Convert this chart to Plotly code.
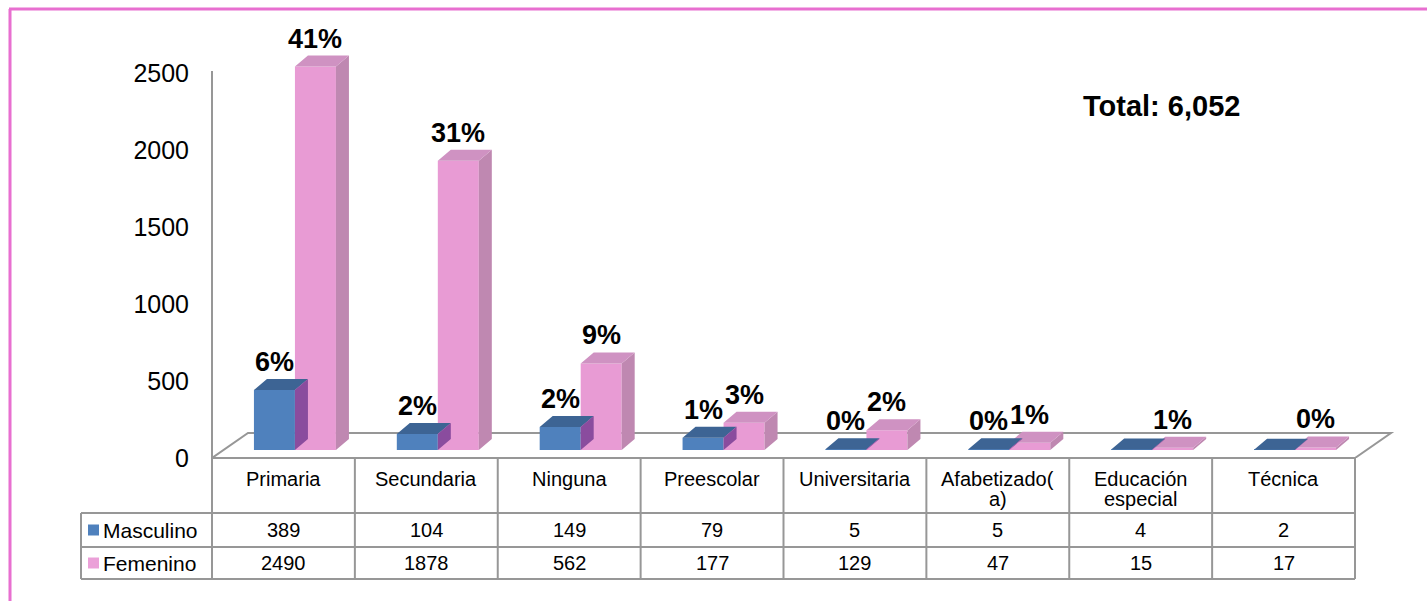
import numpy as np
import plotly.graph_objects as go

# ---------------- data ----------------
categories = ["Primaria", "Secundaria", "Ninguna", "Preescolar", "Universitaria",
              "Afabetizado(a)", "Educación especial", "Técnica"]
header_lines = [["Primaria"], ["Secundaria"], ["Ninguna"], ["Preescolar"], ["Universitaria"],
                ["Afabetizado(", "a)"], ["Educación", "especial"], ["Técnica"]]
series_names = ["Masculino", "Femenino"]
masculino = [389, 104, 149, 79, 5, 5, 4, 2]
femenino = [2490, 1878, 562, 177, 129, 47, 15, 17]
masc_labels = ["6%", "2%", "2%", "1%", "0%", "0%", "", ""]
fem_labels = ["41%", "31%", "9%", "3%", "2%", "1%", "1%", "0%"]
y_ticks = [0, 500, 1000, 1500, 2000, 2500]
total_text = "Total: 6,052"

# ---------------- geometry / style ----------------
W, H = 1427, 601
PL, PR, PT, PB = 212, 1400, 30, 458          # plot area in pixels
COL_PX = 142.875                              # pixel width of one category column
PX_PER_UNIT = 0.154                           # pixels per value unit
FONT = "Arial, Liberation Sans, sans-serif"
GRID = "#979797"

n = len(categories)
x_min = -0.5
x_max = -0.5 + (PR - PL) / COL_PX
y_max = (PB - PT) / PX_PER_UNIT


def dx(px):
    return px / COL_PX


def dy(px):
    return px / PX_PER_UNIT


def paper_x_px(px):
    return (px - PL) / (PR - PL)


def paper_x_data(xd):
    return (xd - x_min) / (x_max - x_min)


def paper_y(py):
    return (PB - py) / (PB - PT)


colors = {
    "Masculino": dict(front="#4F81BD", top="#3D6494", side="#8A4C9E", legend="#4F81BD"),
    "Femenino": dict(front="#E89BD4", top="#CF92C2", side="#BF88B1", legend="#EBA0D8"),
}

base = dy(8)
bar_w = dx(41)
depth_x, depth_y = dx(13), dy(11)
offsets = {"Masculino": dx(-9), "Femenino": dx(32)}
values = {"Masculino": masculino, "Femenino": femenino}
labels = {"Masculino": masc_labels, "Femenino": fem_labels}

idx = np.arange(n)
fig = go.Figure()


def faces(xc, vals):
    top_x, top_y, side_x, side_y = [], [], [], []
    for c, v in zip(xc, vals):
        x0, x1 = c - bar_w / 2, c + bar_w / 2
        t = base + v
        top_x += [x0, x1, x1 + depth_x, x0 + depth_x, x0, None]
        top_y += [t, t, t + depth_y, t + depth_y, t, None]
        side_x += [x1, x1, x1 + depth_x, x1 + depth_x, x1, None]
        side_y += [base, t, t + depth_y, base + depth_y, base, None]
    return top_x, top_y, side_x, side_y


for name in ["Femenino", "Masculino"]:
    xc = idx + offsets[name]
    col = colors[name]
    fig.add_trace(go.Bar(x=xc, y=values[name], base=base, width=bar_w, name=name,
                         marker=dict(color=col["front"], line=dict(width=0)),
                         showlegend=False))
    tx, ty, sx, sy = faces(xc, values[name])
    order = [("side", sx, sy), ("top", tx, ty)] if name == "Femenino" else [("top", tx, ty), ("side", sx, sy)]
    for key, px_, py_ in order:
        fig.add_trace(go.Scatter(x=px_, y=py_, mode="lines", fill="toself",
                                 fillcolor=col[key], line=dict(width=0, color=col[key]),
                                 hoverinfo="skip", showlegend=False))

shapes = []
annotations = []

# 3D floor outline
fx0, fx1 = -0.5, n - 0.5
floor_dx, floor_dy = dx(36), dy(25)
shapes.append(dict(type="path", xref="x", yref="y", layer="below",
                   path=f"M {fx0},0 L {fx0 + floor_dx},{floor_dy} L {fx1 + floor_dx},{floor_dy} "
                        f"L {fx1},0 Z",
                   line=dict(color=GRID, width=2)))

# vertical axis line
shapes.append(dict(type="line", xref="paper", yref="y", x0=0, x1=0, y0=0,
                   y1=max(y_ticks) + dy(2), line=dict(color=GRID, width=2)))

# percentage labels
for name in ["Masculino", "Femenino"]:
    xc = idx + offsets[name]
    for c, v, lab in zip(xc, values[name], labels[name]):
        if lab:
            annotations.append(dict(x=c, y=base + v, xref="x", yref="y", text=f"<b>{lab}</b>",
                                    showarrow=False, yshift=28, xanchor="center",
                                    yanchor="middle",
                                    font=dict(family=FONT, size=27, color="black")))

# data table
row_top, row_h1, row_m, row_f = 458, 513, 547, 579
leg_left = 81
tbl_left = paper_x_data(-0.5)
tbl_right = paper_x_data(n - 0.5)
for py in [row_top]:
    shapes.append(dict(type="line", xref="paper", yref="paper", x0=tbl_left, x1=tbl_right,
                       y0=paper_y(py), y1=paper_y(py), line=dict(color=GRID, width=2)))
for py in [row_h1, row_m, row_f]:
    shapes.append(dict(type="line", xref="paper", yref="paper", x0=paper_x_px(leg_left),
                       x1=tbl_right, y0=paper_y(py), y1=paper_y(py),
                       line=dict(color=GRID, width=2)))
shapes.append(dict(type="line", xref="paper", yref="paper", x0=paper_x_px(leg_left),
                   x1=paper_x_px(leg_left), y0=paper_y(row_h1), y1=paper_y(row_f),
                   line=dict(color=GRID, width=2)))
for k in range(n + 1):
    xp = paper_x_data(k - 0.5)
    shapes.append(dict(type="line", xref="paper", yref="paper", x0=xp, x1=xp,
                       y0=paper_y(row_top), y1=paper_y(row_f), line=dict(color=GRID, width=2)))

for i, lines in enumerate(header_lines):
    for j, ln in enumerate(lines):
        annotations.append(dict(x=paper_x_data(i), y=paper_y(479 + 20 * j), xref="paper",
                                yref="paper", text=ln, showarrow=False, xanchor="center",
                                yanchor="middle",
                                font=dict(family=FONT, size=20, color="black")))

row_centers = {"Masculino": 530, "Femenino": 563}
for name in series_names:
    yc = row_centers[name]
    for i, v in enumerate(values[name]):
        annotations.append(dict(x=paper_x_data(i), y=paper_y(yc), xref="paper", yref="paper",
                                text=str(v), showarrow=False, xanchor="center", yanchor="middle",
                                font=dict(family=FONT, size=20, color="black")))
    shapes.append(dict(type="rect", xref="paper", yref="paper", x0=paper_x_px(88),
                       x1=paper_x_px(99), y0=paper_y(yc - 5.5), y1=paper_y(yc + 5.5),
                       fillcolor=colors[name]["legend"], line=dict(width=0)))
    annotations.append(dict(x=paper_x_px(101), y=paper_y(yc), xref="paper", yref="paper",
                            text=name, showarrow=False, xanchor="left", yanchor="middle",
                            font=dict(family=FONT, size=21, color="black")))

# total annotation
annotations.append(dict(x=paper_x_px(1161), y=paper_y(106), xref="paper", yref="paper",
                        text=f"<b>{total_text}</b>", showarrow=False, xanchor="center",
                        yanchor="middle",
                        font=dict(family=FONT, size=29, color="black")))

# pink frame
BORDER = "#E86FD0"
shapes.append(dict(type="line", xref="paper", yref="paper", x0=paper_x_px(9), x1=paper_x_px(W),
                   y0=paper_y(9), y1=paper_y(9), line=dict(color=BORDER, width=3)))
shapes.append(dict(type="line", xref="paper", yref="paper", x0=paper_x_px(10), x1=paper_x_px(10),
                   y0=paper_y(9), y1=paper_y(H), line=dict(color=BORDER, width=3)))

fig.update_layout(
    width=W, height=H,
    margin=dict(l=PL, r=W - PR, t=PT, b=H - PB, autoexpand=False),
    paper_bgcolor="white", plot_bgcolor="rgba(0,0,0,0)",
    barmode="overlay", showlegend=False,
    xaxis=dict(range=[x_min, x_max], visible=False, fixedrange=True),
    yaxis=dict(range=[0, y_max], tickvals=y_ticks, ticktext=[str(t) for t in y_ticks],
               showgrid=False, zeroline=False, showline=False, ticks="",
               ticklabelstandoff=22, tickfont=dict(family=FONT, size=25, color="black"),
               fixedrange=True),
    shapes=shapes, annotations=annotations,
    font=dict(family=FONT),
)

fig.write_html("out.html", config={"displayModeBar": False},
               post_script="document.body.style.margin='0';document.body.style.overflow='hidden';")
